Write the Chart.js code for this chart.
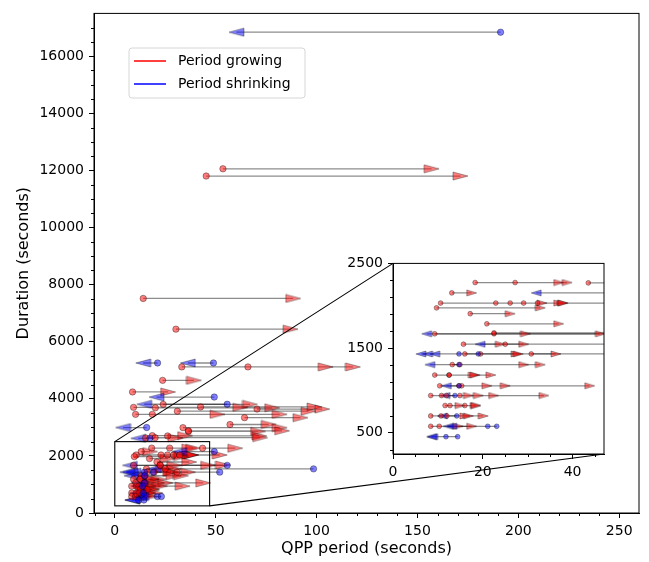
<!DOCTYPE html>
<html>
<head>
<meta charset="utf-8">
<script src="https://cdn.jsdelivr.net/npm/chart.js@4.4.0/dist/chart.umd.min.js"></script>
<style>
  html, body { margin: 0; padding: 0; background: #fff; }
  #wrap { position: relative; width: 649px; height: 562px; }
  #main { position: absolute; left: 0; top: 0; }
  #inset { position: absolute; left: 340px; top: 250px; }
</style>
</head>
<body>
<div id="wrap">
  <canvas id="main" width="649" height="562"></canvas>
  <canvas id="inset" width="275" height="230"></canvas>
</div>
<script>
// QPP period change per scan: circle = start period, triangle = end period

const growFrom = [53.6, 45.3, 14.1, 30.3, 33.2, 66, 23.7, 8.8, 24, 9.3, 20.1, 42.5, 70.5, 31, 10.3, 18.6, 64.3, 57.1, 33.8, 36.5, 36.5, 18.6, 26.2, 15.3, 20,
  18.3, 27.2, 43.5, 13.1, 10.6, 22.9, 26.1, 29.1, 32.2, 9.7, 17.2, 20.9, 9.3, 22.5, 22.5, 15.7, 25.0, 16.0, 19.5, 30.8,
  13.2, 14.9, 9.3, 12.5, 12.5, 10.4, 15.3, 14.7, 8.4, 10.8, 14.9, 11.9, 11.6, 12.7, 16.0, 8.4, 10.7, 12.0, 8.4, 10.3];
const growTo = [157, 171.3, 88.4, 87.1, 104.5, 118, 39.2, 26.4, 67, 62.2, 78, 99, 102.8, 96, 50.9, 81.7, 92, 76.3, 81.7, 71, 82.9, 34.8, 71.6, 30, 72,
  36.9, 38.8, 59.7, 17.5, 33.2, 36.9, 37.7, 37.9, 52, 32.8, 26.1, 36.9, 46.2, 29.5, 53.6, 23.9, 29.1, 27.4, 27.9, 36.3,
  29.1, 32.8, 17.9, 21.8, 18.3, 43.8, 25.0, 20.9, 33.6, 19.0, 22.4, 16.8, 14.9, 18.3, 18.5, 16.0, 20.1, 16.8, 14.5, 17.5];
const growDur = [12057, 11803, 7515, 6440, 5117, 5117, 4646, 4240, 3805, 3700, 3685, 3715, 3640, 3565, 3455, 3455, 3340, 3100, 2990, 2857, 2880, 2710, 2700, 2630, 2640,
  2274, 2274, 2270, 2152, 2032, 2032, 2032, 2032, 2032, 1975, 1906, 1787, 1669, 1669, 1680, 1546, 1546, 1431, 1431, 1431,
  1305, 1305, 1182, 1182, 1182, 1055, 1055, 1055, 940, 940, 940, 940, 822, 822, 822, 699, 699, 699, 577, 577];

const shrinkFrom = [191.2, 21.2, 48.9, 49.3, 55.7, 15.8, 17.4, 98.5, 49.3, 55.7, 14.7, 19.0, 52, 14.7, 14.7, 13.8, 14.2, 21.1, 23.1, 11.8, 14.4];
const shrinkTo = [60.3, 14.1, 36.2, 20.7, 14.6, 4.1, 11.6, 19.4, 31.9, 7.5, 9.3, 7.7, 6.2, 8.2, 11.9, 11.6, 11.0, 12.3, 13.1, 8.6, 8.8];
const shrinkDur = [16841, 5255, 5255, 4061, 3809, 2994, 2616, 1546, 2152, 1669, 1431, 1431, 1431, 1305, 1055, 940, 699, 577, 577, 454, 454];

const mainXTicks = [0, 50, 100, 150, 200, 250];
const mainXMinor = [-10, 10, 20, 30, 40, 60, 70, 80, 90, 110, 120, 130, 140, 160, 170, 180, 190, 210, 220, 230, 240];
const mainYTicks = [0, 2000, 4000, 6000, 8000, 10000, 12000, 14000, 16000];
const mainYMinor = [500, 1000, 1500, 2500, 3000, 3500, 4500, 5000, 5500, 6500, 7000, 7500, 8500, 9000, 9500,
  10500, 11000, 11500, 12500, 13000, 13500, 14500, 15000, 15500, 16500, 17000];
const insetXTicks = [0, 20, 40];
const insetXMinor = [5, 10, 15, 25, 30, 35, 45];
const insetYTicks = [500, 1500, 2500];
const insetYMinor = [300, 700, 900, 1100, 1300, 1700, 1900, 2100, 2300];

const RED = 'rgba(255,0,0,0.5)';
const BLUE = 'rgba(0,0,255,0.5)';
const EDGE = 'rgba(0,0,0,0.45)';

Chart.defaults.font.family = "'DejaVu Sans', sans-serif";
Chart.defaults.color = '#000';

function makeTri(dir, fill, len, h) {
  const c = document.createElement('canvas');
  c.width = len + 2; c.height = h + 2;
  const g = c.getContext('2d');
  g.beginPath();
  if (dir > 0) { g.moveTo(1, 1); g.lineTo(len + 1, h / 2 + 1); g.lineTo(1, h + 1); }
  else { g.moveTo(len + 1, 1); g.lineTo(1, h / 2 + 1); g.lineTo(len + 1, h + 1); }
  g.closePath();
  g.fillStyle = fill; g.fill();
  g.strokeStyle = EDGE; g.lineWidth = 0.8; g.stroke();
  return c;
}
const bigTri = {right: makeTri(1, RED, 15, 8), left: makeTri(-1, BLUE, 15, 8), r: 3.2};
const smallTri = {right: makeTri(1, RED, 10, 6), left: makeTri(-1, BLUE, 10, 6), r: 2.4};

function arrowSets(from, to, dur, color, tri, r) {
  const seg = [];
  from.forEach((f, i) => {
    seg.push({x: f, y: dur[i]}, {x: to[i], y: dur[i]}, {x: to[i], y: null});
  });
  return [
    {data: seg, showLine: true, spanGaps: false, borderColor: 'rgba(0,0,0,0.45)', borderWidth: 1.3, pointRadius: 0, order: 5},
    {data: to.map((t, i) => ({x: t, y: dur[i]})), pointStyle: tri, pointRadius: 5, order: 2},
    {data: from.map((f, i) => ({x: f, y: dur[i]})), pointStyle: 'circle', pointRadius: r,
      pointBackgroundColor: color, pointBorderColor: EDGE, pointBorderWidth: 0.8, order: 1}
  ];
}

function allSets(m) {
  return arrowSets(shrinkFrom, shrinkTo, shrinkDur, BLUE, m.left, m.r)
    .concat(arrowSets(growFrom, growTo, growDur, RED, m.right, m.r));
}

function fixTicks(list) {
  return scale => { scale.ticks = list.map(v => ({value: v})); };
}

function minorTicks(ctx, scale, values, len) {
  ctx.beginPath();
  values.forEach(v => {
    const p = Math.round(scale.getPixelForValue(v)) + 0.5;
    if (scale.isHorizontal()) { ctx.moveTo(p, scale.top); ctx.lineTo(p, scale.top + len); }
    else { ctx.moveTo(scale.right, p); ctx.lineTo(scale.right - len, p); }
  });
  ctx.stroke();
}

function axis(min, max, ticks, fit, title, titlePad) {
  return {
    type: 'linear', min: min, max: max,
    afterBuildTicks: fixTicks(ticks),
    afterFit: fit,
    ticks: {font: {size: 14}, color: '#000', padding: 5, maxRotation: 0, autoSkip: false, callback: v => String(v)},
    grid: {drawOnChartArea: false, drawTicks: true, tickLength: 5, tickColor: '#000', tickWidth: 1},
    border: {display: true, color: '#000', width: 1},
    title: title ? {display: true, text: title, font: {size: 16}, color: '#000', padding: titlePad} : {display: false}
  };
}

const insetFrame = {
  id: 'insetFrame',
  beforeDraw(chart) {
    const a = chart.chartArea, ctx = chart.ctx;
    ctx.save();
    ctx.fillStyle = '#fff';
    ctx.fillRect(a.left, a.top, a.right - a.left, a.bottom - a.top);
    ctx.restore();
  },
  afterDraw(chart) {
    const a = chart.chartArea, ctx = chart.ctx;
    ctx.save();
    ctx.strokeStyle = '#000'; ctx.lineWidth = 1;
    ctx.strokeRect(a.left, a.top, a.right - a.left, a.bottom - a.top);
    minorTicks(ctx, chart.scales.x, insetXMinor, 3);
    minorTicks(ctx, chart.scales.y, insetYMinor, 3);
    ctx.restore();
  }
};

const inset = new Chart(document.getElementById('inset'), {
  type: 'scatter',
  data: {datasets: allSets(smallTri)},
  options: {
    responsive: false, animation: false, events: [],
    layout: {padding: {top: 6, right: 11, bottom: 0, left: 0}},
    plugins: {legend: {display: false}, tooltip: {enabled: false}},
    scales: {
      x: axis(0, 47, insetXTicks, s => { s.height = 26; }),
      y: axis(250, 2500, insetYTicks, s => { s.width = 53; })
    }
  },
  plugins: [insetFrame]
});

const mainDecor = {
  id: 'mainDecor',
  afterDatasetsDraw(chart) {
    const ctx = chart.ctx, x = chart.scales.x, y = chart.scales.y;
    const ia = inset.chartArea;
    const ox = 340, oy = 250;
    ctx.save();
    ctx.strokeStyle = '#000'; ctx.lineWidth = 1.1;
    const x0 = x.getPixelForValue(inset.scales.x.min), x1 = x.getPixelForValue(inset.scales.x.max);
    const y0 = y.getPixelForValue(inset.scales.y.max), y1 = y.getPixelForValue(inset.scales.y.min);
    ctx.strokeRect(x0, y0, x1 - x0, y1 - y0);
    ctx.beginPath();
    ctx.moveTo(x0, y0); ctx.lineTo(ox + ia.left, oy + ia.top);
    ctx.moveTo(x1, y1); ctx.lineTo(ox + ia.right, oy + ia.bottom);
    ctx.stroke();
    ctx.restore();
  },
  afterDraw(chart) {
    const ctx = chart.ctx, a = chart.chartArea;
    ctx.save();
    ctx.strokeStyle = '#000'; ctx.lineWidth = 1;
    ctx.strokeRect(a.left, a.top, a.right - a.left, a.bottom - a.top);
    minorTicks(ctx, chart.scales.x, mainXMinor, 3);
    minorTicks(ctx, chart.scales.y, mainYMinor, 3);

    // legend
    const bx = 129, by = 48, bw = 176, bh = 50, r = 3;
    ctx.beginPath();
    ctx.moveTo(bx + r, by); ctx.lineTo(bx + bw - r, by); ctx.quadraticCurveTo(bx + bw, by, bx + bw, by + r);
    ctx.lineTo(bx + bw, by + bh - r); ctx.quadraticCurveTo(bx + bw, by + bh, bx + bw - r, by + bh);
    ctx.lineTo(bx + r, by + bh); ctx.quadraticCurveTo(bx, by + bh, bx, by + bh - r);
    ctx.lineTo(bx, by + r); ctx.quadraticCurveTo(bx, by, bx + r, by);
    ctx.closePath();
    ctx.fillStyle = 'rgba(255,255,255,0.8)'; ctx.fill();
    ctx.strokeStyle = '#d6d6d6'; ctx.stroke();
    const items = [['Period growing', '#ff0000'], ['Period shrinking', '#0000ff']];
    ctx.font = "14px 'DejaVu Sans'";
    ctx.textBaseline = 'middle';
    items.forEach((it, i) => {
      const ly = by + 13 + i * 23;
      ctx.strokeStyle = it[1]; ctx.lineWidth = 1.5;
      ctx.beginPath(); ctx.moveTo(134, ly); ctx.lineTo(166, ly); ctx.stroke();
      ctx.fillStyle = '#000';
      ctx.fillText(it[0], 178, ly);
    });
    ctx.restore();
  }
};

new Chart(document.getElementById('main'), {
  type: 'scatter',
  data: {datasets: allSets(bigTri)},
  options: {
    responsive: false, animation: false, events: [],
    layout: {padding: {top: 5, right: 10, bottom: 0, left: 0}},
    plugins: {legend: {display: false}, tooltip: {enabled: false}},
    scales: {
      x: axis(-10.3, 259.8, mainXTicks, s => { s.height = 49; }, 'QPP period (seconds)', {top: 4, bottom: 4}),
      y: axis(0, 17500, mainYTicks, s => { s.width = 94; }, 'Duration (seconds)', {top: 14, bottom: 4})
    }
  },
  plugins: [mainDecor]
});
</script>
</body>
</html>
